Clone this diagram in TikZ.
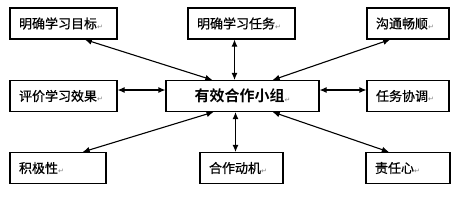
\documentclass[tikz,border=0pt]{standalone}
\usepackage{fontspec}
\newfontfamily\cjk[FakeBold=0.7]{Noto Sans CJK SC}
\newfontfamily\cjkb{Noto Sans CJK SC Bold}
\newfontfamily\symb{DejaVu Sans}
\usetikzlibrary{arrows.meta}
\newcommand{\ret}{{\symb\fontsize{7pt}{7pt}\selectfont\color{gray}\raisebox{-1pt}{↵}}}

\begin{document}
\begin{tikzpicture}[x=1pt, y=1pt, every node/.style={font=\cjk\fontsize{13pt}{15pt}\selectfont},
	box/.style={draw, line width=1.1pt, minimum height=31pt, inner xsep=9pt, align=left},
	link/.style={line width=1.1pt, {Latex[length=7pt,width=6pt]}-{Latex[length=7pt,width=6pt]}}]
	\useasboundingbox (0,0) rectangle (457,202);
	\node[box, text width=89pt] (mb) at (63.5,178.5) {明确学习目标\ret};
	\node[box, text width=89pt] (mr) at (241.5,178.5) {明确学习任务\ret};
	\node[box, text width=64pt] (gt) at (408,178.5) {沟通畅顺\ret};
	\node[box, text width=89pt] (pj) at (63.5,106) {评价学习效果\ret};
	\node[box, text width=135pt, align=center, font=\cjkb\fontsize{15pt}{17pt}\selectfont] (zx) at (242.5,106) {有效合作小组\ret};
	\node[box, text width=64pt] (xt) at (408,106) {任务协调\ret};
	\node[box, text width=78pt] (jj) at (58,34) {积极性\ret};
	\node[box, text width=65pt] (dj) at (241.5,34) {合作动机\ret};
	\node[box, text width=66pt] (zr) at (408,34) {责任心\ret};
	\draw[link] (mb.-37) -- (zx.152);
	\draw[link] ([xshift=-7pt]mr.south) -- ([xshift=-7pt]mr.south |- zx.north);
	\draw[link] (gt.222) -- (zx.28);
	\draw[link] ([yshift=6pt]pj.east) -- ([yshift=6pt]pj.east -| zx.west);
	\draw[link] ([yshift=6pt]zx.east) -- ([yshift=6pt]zx.east -| xt.west);
	\draw[link] (jj.33) -- (zx.209);
	\draw[link] ([xshift=-7pt]zx.south) -- ([xshift=-7pt]zx.south |- dj.north);
	\draw[link] (zx.-28) -- (zr.140);
\end{tikzpicture}
\end{document}
